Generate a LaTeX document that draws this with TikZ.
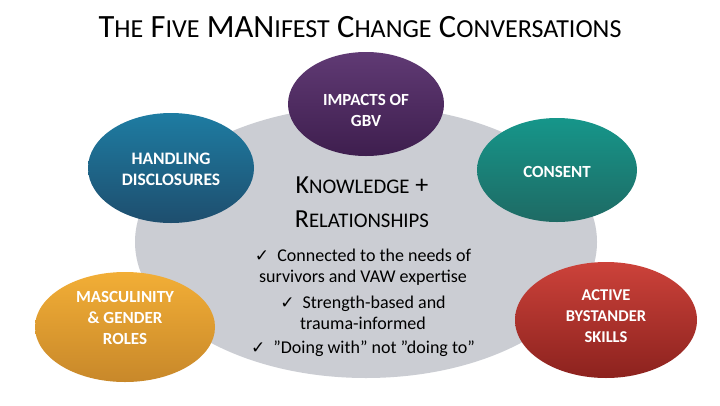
\documentclass[tikz,border=0pt]{standalone}
\usepackage{fontspec}
\setmainfont{Carlito}
\newfontfamily\symfont{DejaVu Sans}
\usetikzlibrary{shapes.geometric}
\newcommand\SmL[1]{{\fontsize{26}{36}\selectfont #1}}
\newcommand\SmK[1]{{\fontsize{20.8}{30}\selectfont #1}}
\newcommand\chk{{\symfont\fontsize{17}{18}\selectfont ✓}}
\begin{document}
\begin{tikzpicture}[x=1pt,y=-1pt,
  conv/.style={ellipse, inner sep=0pt},
  convtext/.style={text=white, align=center, inner sep=0pt,
    font=\bfseries\fontsize{17}{21}\selectfont},
  body/.style={align=center, font=\fontsize{18}{21}\selectfont, inner sep=0pt}]
\useasboundingbox (0,0) rectangle (720,405);
\fill[white] (0,0) rectangle (720,405);
% title
\node[inner sep=0pt, font=\fontsize{32.5}{36}\selectfont] (title) at (360,27) {T\SmL{HE} F\SmL{IVE} MAN\SmL{IFEST} C\SmL{HANGE} C\SmL{ONVERSATIONS}};
% central ellipse
\fill[fill={rgb,255:red,203;green,205;blue,211}] (366,242) ellipse[x radius=231, y radius=136];
\node[inner sep=0pt, minimum width=462, minimum height=272] (core) at (366,242) {};
% satellites
\node[conv, minimum width=156, minimum height=104,
  top color={rgb,255:red,96;green,58;blue,116}, bottom color={rgb,255:red,62;green,30;blue,78}]
  (impacts) at (366,104) {};
\node[convtext] (impactsT) at (366,110) {IMPACTS OF\\GBV};
\node[conv, minimum width=166, minimum height=110,
  top color={rgb,255:red,30;green,124;blue,162}, bottom color={rgb,255:red,30;green,78;blue,110}]
  (handling) at (171,168) {};
\node[convtext, font=\bfseries\fontsize{17.5}{21}\selectfont] (handlingT) at (171,169) {HANDLING\\DISCLOSURES};
\node[conv, minimum width=160, minimum height=104,
  top color={rgb,255:red,22;green,150;blue,138}, bottom color={rgb,255:red,30;green,106;blue,100}]
  (consent) at (557,170) {};
\node[convtext] (consentT) at (557,172) {CONSENT};
\node[conv, minimum width=180, minimum height=110,
  top color={rgb,255:red,242;green,174;blue,54}, bottom color={rgb,255:red,200;green,136;blue,42}]
  (masc) at (125,327) {};
\node[convtext] (mascT) at (125,318) {MASCULINITY\\\& GENDER\\ROLES};
\node[conv, minimum width=182, minimum height=116,
  top color={rgb,255:red,204;green,66;blue,58}, bottom color={rgb,255:red,140;green,34;blue,30}]
  (active) at (606,320) {};
\node[convtext, font=\bfseries\fontsize{16.5}{21}\selectfont] (activeT) at (606,316) {ACTIVE\\BYSTANDER\\SKILLS};
% central text
\node[inner sep=0pt, align=center, font=\fontsize{26}{34}\selectfont] (know) at (362,202) {K\SmK{NOWLEDGE} +\\R\SmK{ELATIONSHIPS}};
\node[body] (b1) at (363,267) {\chk\ \ Connected to the needs of\\survivors and VAW expertise};
\node[body] (b2) at (363,313) {\chk\ \ Strength-based and\\trauma-informed};
\node[body] (b3) at (363,349) {\chk\ \ ”Doing with” not ”doing to”};
\end{tikzpicture}
\end{document}
